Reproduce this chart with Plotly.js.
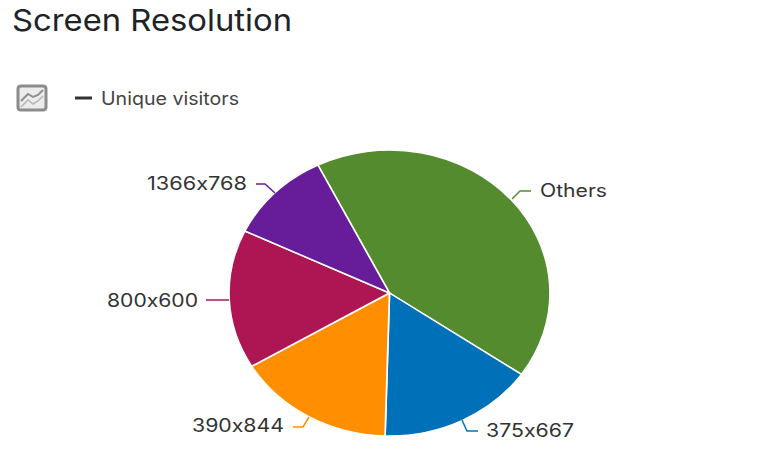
<!DOCTYPE html>
<html><head><meta charset="utf-8">
<script src="https://cdn.plot.ly/plotly-3.0.1.min.js"></script>
<style>html,body{margin:0;padding:0;background:#fff}#c{width:760px;height:460px}
text{font-feature-settings:"calt" 0,"liga" 0;font-variant-ligatures:none}</style>
</head><body><div id="c"></div>
<script>
const categories = ["Others","375x667","390x844","800x600","1366x768"];
const values = [42,15.8,16,15.7,10.5];
const colors = ["#548b2e","#0071b9","#ff8f00","#ad1553","#671c9a"];
const titleText = "Screen Resolution";
const legendText = "Unique visitors";
const cx=389.5, cy=293, rx=160.5, ry=143;
const W=760,H=460;
const font="Inter, 'Open Sans', sans-serif";
const labels=[
 {x:540,w:67,y:190,lx:[512,520,531],ly:[199,191,191]},
 {x:486,w:88,y:430,lx:[462,467,478],ly:[420,431,431]},
 {x:192,w:92,y:425,lx:[309,303,293],ly:[417,427,427]},
 {x:107,w:91,y:300,lx:[229,218,206],ly:[300,300,300]},
 {x:147,w:100,y:183,lx:[275,265,256],ly:[193,184,184]}
];
const px=(x,y)=>(x/W)+' '+(1-y/H);
const pathOf=(xs,ys)=>xs.map((x,j)=>(j?'L':'M')+px(x,ys[j])).join(' ');
const traces=[{type:'pie',labels:categories,values:values,sort:false,direction:'clockwise',
  rotation:-26.5,textinfo:'none',hoverinfo:'label+percent',showlegend:false,
  marker:{colors:colors,line:{color:'#fff',width:1.5}},
  domain:{x:[(cx-ry)/W,(cx+ry)/W],y:[1-(cy+ry)/H,1-(cy-ry)/H]}}];
const paper={type:'path',xref:'paper',yref:'paper'};
const shapes=labels.map((l,i)=>({...paper,path:pathOf(l.lx,l.ly),line:{color:colors[i],width:1.5}}));
shapes.push({...paper,path:pathOf([75,92],[98,98]),line:{color:'#333',width:3}});
shapes.push({...paper,
  path:`M${px(21,86)} L${px(43,86)} Q${px(46,86)} ${px(46,89)} L${px(46,107)} Q${px(46,110)} ${px(43,110)} L${px(21,110)} Q${px(18,110)} ${px(18,107)} L${px(18,89)} Q${px(18,86)} ${px(21,86)} Z`,
  line:{color:'#8c8c8c',width:3},fillcolor:'#ececec'});
shapes.push({...paper,path:pathOf([21,28,33,38,43],[101,94,97,95,90]),line:{color:'#8f8f8f',width:2}});
shapes.push({...paper,path:pathOf([21,28,33,38,43],[107,100,104,101,96]),line:{color:'#b5b5b5',width:1.5}});
const annotations=labels.map((l,i)=>({xref:'paper',yref:'paper',x:l.x/W,y:1-l.y/H,text:categories[i],showarrow:false,
  xanchor:'left',yanchor:'middle',font:{family:font,size:18,color:'#333'}}));
annotations.push({xref:'paper',yref:'paper',x:101/W,y:1-98/H,text:legendText,showarrow:false,xanchor:'left',yanchor:'middle',font:{family:font,size:18,color:'#444'}});
const widths=labels.map(l=>l.w).concat([138]);
const lefts=labels.map(l=>l.x).concat([101]);
Plotly.newPlot('c',traces,{width:W,height:H,margin:{l:0,r:0,t:0,b:0},paper_bgcolor:'#fff',
  title:{text:titleText,x:12/W,xanchor:'left',y:1-20/H,yanchor:'middle',font:{family:font,size:30,color:'#1d2327'}},
  shapes:shapes,annotations:annotations},{displayModeBar:false}).then(gd=>{
  // the reference picture is stretched sideways: same stretch on the pie and the texts
  gd.querySelectorAll('.pielayer').forEach(g=>g.setAttribute('transform',`translate(${cx} 0) scale(${rx/ry} 1) translate(${-cx} 0)`));
  const fit=(t,left,w)=>{t.setAttribute('text-anchor','start');
    t.setAttribute('textLength',w);t.setAttribute('lengthAdjust','spacingAndGlyphs');
    const x0=parseFloat(t.getAttribute('x'))||0;
    const shift=left-t.getBoundingClientRect().left;
    t.setAttribute('x',x0+shift);};
  gd.querySelectorAll('.annotation-text').forEach((t,i)=>fit(t,lefts[i],widths[i]));
  const tt=gd.querySelector('.gtitle');if(tt)fit(tt,12,280);
});
</script></body></html>
